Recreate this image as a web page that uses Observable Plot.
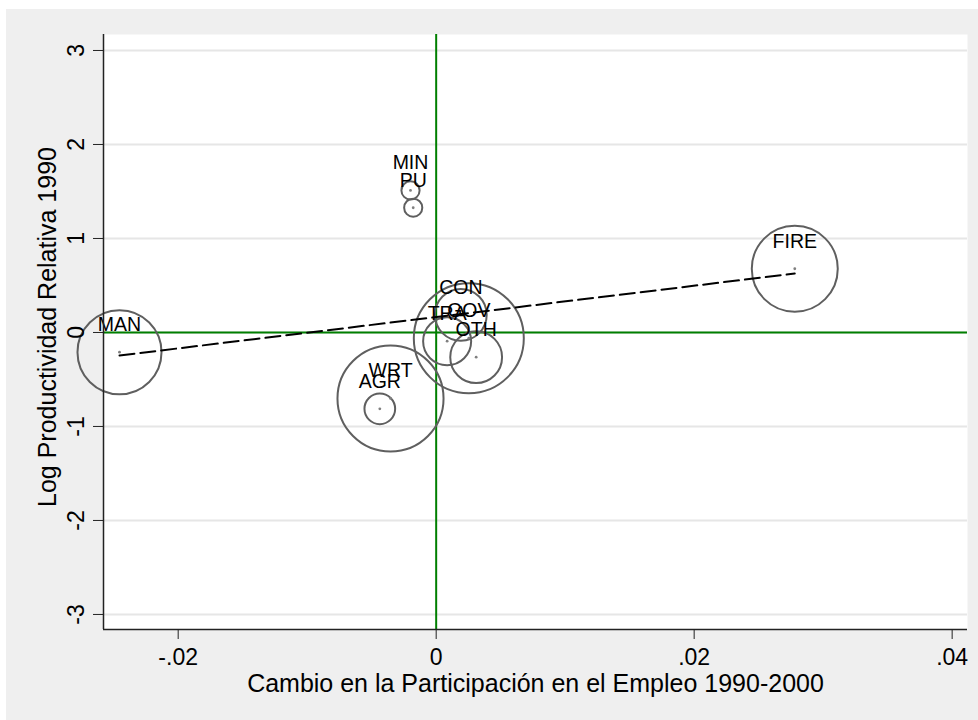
<!DOCTYPE html>
<html>
<head>
<meta charset="utf-8">
<script src="https://cdn.jsdelivr.net/npm/d3@7"></script>
<script src="https://cdn.jsdelivr.net/npm/@observablehq/plot@0.6"></script>
<style>
  html, body { margin: 0; padding: 0; background: #ffffff; }
  #chart { position: absolute; left: 6px; top: 9px; }
</style>
</head>
<body>
<div id="chart"></div>
<script>
// ---- data ----
const sectors     = ["MAN", "MIN", "PU", "FIRE", "CON", "TRA", "GOV", "OTH", "WRT", "AGR"];
const shareChange = [-0.02455, -0.00199, -0.00178, 0.02780, 0.00191, 0.00085, 0.00253, 0.00310, -0.00354, -0.00437];
const logRelProd  = [-0.210, 1.511, 1.327, 0.678, 0.188, -0.093, -0.061, -0.263, -0.702, -0.812];
const empWeight   = [15.0, 0.7, 0.7, 15.7, 5.7, 4.9, 25.7, 5.7, 23.9, 2.0];

// fitted (weighted) line
const fitIntercept = 0.164;
const fitSlope = 16.66;

const xTicks = [-0.02, 0, 0.02, 0.04];
const yTicks = [-3, -2, -1, 0, 1, 2, 3];
const xTitle = "Cambio en la Participación en el Empleo 1990-2000";
const yTitle = "Log Productividad Relativa 1990";

// ---- build tables ----
const rows = sectors.map((s, i) => ({name: s, x: shareChange[i], y: logRelProd[i], w: empWeight[i]}));
const xExt = d3.extent(shareChange);
const fit = xExt.map(x => ({x, y: fitIntercept + fitSlope * x}));

const xDomain = [-0.02579, 0.04119];
const yDomain = [-3.16, 3.17];

const fmtX = d => d === 0 ? "0" : String(d).replace("0.", ".");
const fmtY = d => String(d);

const chart = Plot.plot({
  width: 972,
  height: 711,
  marginLeft: 97,
  marginTop: 25,
  marginRight: 11,
  marginBottom: 91,
  style: {background: "#efefef", fontFamily: "'Liberation Sans', Arial, Helvetica, sans-serif", fontSize: "23px", color: "#000"},
  x: {domain: xDomain},
  y: {domain: yDomain},
  r: {type: "sqrt", domain: [0, d3.max(empWeight)], range: [0, 55]},
  marks: [
    Plot.frame({fill: "white", stroke: "none"}),
    Plot.ruleY(yTicks, {stroke: "#e6e6e6", strokeWidth: 2}),
    Plot.ruleX([0], {stroke: "#007f00", strokeWidth: 2}),
    Plot.ruleY([0], {stroke: "#007f00", strokeWidth: 2}),
    Plot.dot(rows, {x: "x", y: "y", r: "w", stroke: "#5f5f5f", strokeWidth: 2, fill: "none"}),
    Plot.dot(rows, {x: "x", y: "y", r: 1.4, fill: "#808080", stroke: "none"}),
    Plot.line(fit, {x: "x", y: "y", stroke: "black", strokeWidth: 2, strokeDasharray: "15,6"}),
    Plot.text(rows, {x: "x", y: "y", text: "name", lineAnchor: "bottom", dy: -21, fontSize: 19.5, fill: "black"}),
    Plot.ruleX([xDomain[0]], {stroke: "#222", strokeWidth: 1.5}),
    Plot.ruleY([yDomain[0]], {stroke: "#222", strokeWidth: 1.5}),
    Plot.axisX({ticks: xTicks, tickFormat: fmtX, tickSize: 10, tickPadding: 9, label: null, fontSize: 23, stroke: "#222"}),
    Plot.axisY({ticks: yTicks, tickFormat: fmtY, tickRotate: -90, tickSize: 10, tickPadding: 10, label: null, fontSize: 23, stroke: "#222"}),
    Plot.text([xTitle], {text: d => d, frameAnchor: "bottom", textAnchor: "middle", lineAnchor: "bottom", dy: 62, fontSize: 25, fill: "black"}),
    Plot.text([yTitle], {text: d => d, frameAnchor: "left", textAnchor: "middle", rotate: -90, lineAnchor: "bottom", dx: -48, dy: -5, fontSize: 25, fill: "black"})
  ]
});
document.getElementById("chart").appendChild(chart);
</script>
</body>
</html>
